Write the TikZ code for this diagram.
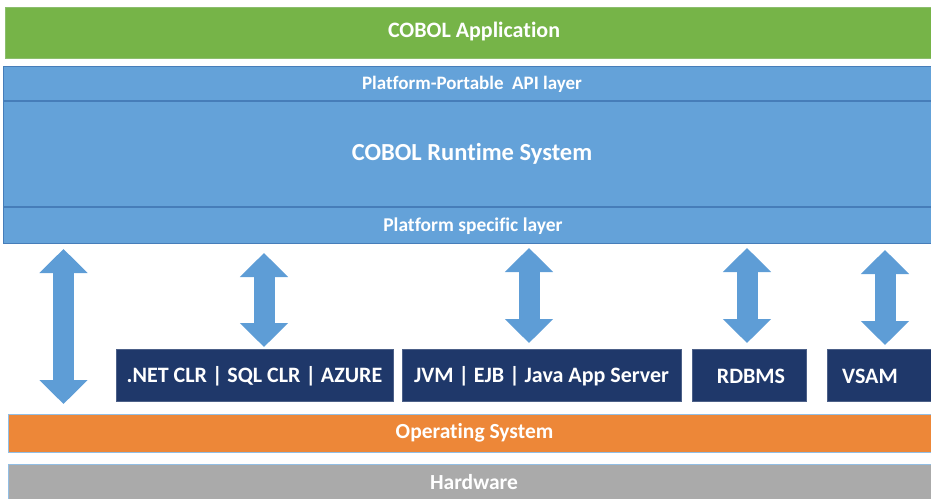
\documentclass[tikz,border=0pt]{standalone}
\usepackage{fontspec}
\setmainfont{Carlito}[Ligatures=NoCommon]
\usetikzlibrary{arrows.meta}
\definecolor{appgreen}{RGB}{118,180,72}
\definecolor{appgreenb}{RGB}{140,190,110}
\definecolor{rtblue}{RGB}{100,162,217}
\definecolor{rtblueb}{RGB}{70,125,185}
\definecolor{navy}{RGB}{31,56,106}
\definecolor{osorange}{RGB}{237,135,56}
\definecolor{hwgray}{RGB}{170,170,170}
\definecolor{arrblue}{RGB}{94,157,214}
\tikzset{
  layer/.style={line width=0.8pt},
  lbl/.style={text=white, font=\bfseries, inner sep=0pt, anchor=center},
  envbox/.style={fill=navy, draw=navy!80!white, line width=0.6pt},
  envtext/.style={lbl, font=\bfseries\fontsize{22}{24}\selectfont},
  bigarrow/.style={draw=arrblue, line width=21pt,
    {Triangle[width=47pt,length=24pt]}-{Triangle[width=47pt,length=24pt]}},
}
\begin{document}
\begin{tikzpicture}[x=1pt,y=-1pt]
\useasboundingbox (0,0) rectangle (931,498);
% COBOL application
\path[layer, fill=appgreen, draw=appgreenb] (5,7) rectangle (940,58);
\node[lbl, font=\bfseries\fontsize{22}{24}\selectfont] (app) at (474,32) {COBOL Application};
% Runtime block
\path[layer, fill=rtblue, draw=rtblueb] (3,66) rectangle (940,243);
\draw[rtblueb, line width=1.2pt] (3,101) -- (940,101);
\draw[rtblueb, line width=1.2pt] (3,207) -- (940,207);
\node[lbl, font=\bfseries\fontsize{19}{21}\selectfont] (api) at (472,84) {Platform-Portable\ \ API layer};
\node[lbl, font=\bfseries\fontsize{24.5}{27}\selectfont] (rts) at (472,154) {COBOL Runtime System};
\node[lbl, font=\bfseries\fontsize{19.5}{21}\selectfont] (psl) at (473,226) {Platform specific layer};
% environment boxes
\path[envbox] (116,349) rectangle (393,401);
\path[envbox] (402,349) rectangle (681,401);
\path[envbox] (692,349) rectangle (806,401);
\path[envbox] (827,349) rectangle (940,401);
\node[envtext] (net) at (254.5,376) {.NET CLR | SQL CLR | AZURE};
\node[envtext] (jvm) at (541.5,376) {JVM | EJB | Java App Server};
\node[envtext] (rdb) at (751,376) {RDBMS};
\node[envtext] (vsam) at (870,376) {VSAM};
% OS and hardware
\path[layer, fill=osorange, draw=rtblue!70!white] (8,414) rectangle (940,452);
\node[lbl, font=\bfseries\fontsize{21.5}{23}\selectfont] (os) at (474.5,433) {Operating System};
\path[layer, fill=hwgray, draw=rtblue!70!white] (8,464) rectangle (940,505);
\node[lbl, font=\bfseries\fontsize{21.5}{23}\selectfont] (hw) at (474,482) {Hardware};
% arrows
\coordinate (a1t) at (63.5,249); \coordinate (a1b) at (63.5,404);
\coordinate (a2t) at (264,253);  \coordinate (a2b) at (264,347);
\coordinate (a3t) at (529,248);  \coordinate (a3b) at (529,343);
\coordinate (a4t) at (747,248);  \coordinate (a4b) at (747,343);
\coordinate (a5t) at (885,250);  \coordinate (a5b) at (885,345);
\draw[bigarrow] (a1t) -- (a1b);
\draw[bigarrow] (a2t) -- (a2b);
\draw[bigarrow] (a3t) -- (a3b);
\draw[bigarrow] (a4t) -- (a4b);
\draw[bigarrow] (a5t) -- (a5b);
\end{tikzpicture}
\end{document}
